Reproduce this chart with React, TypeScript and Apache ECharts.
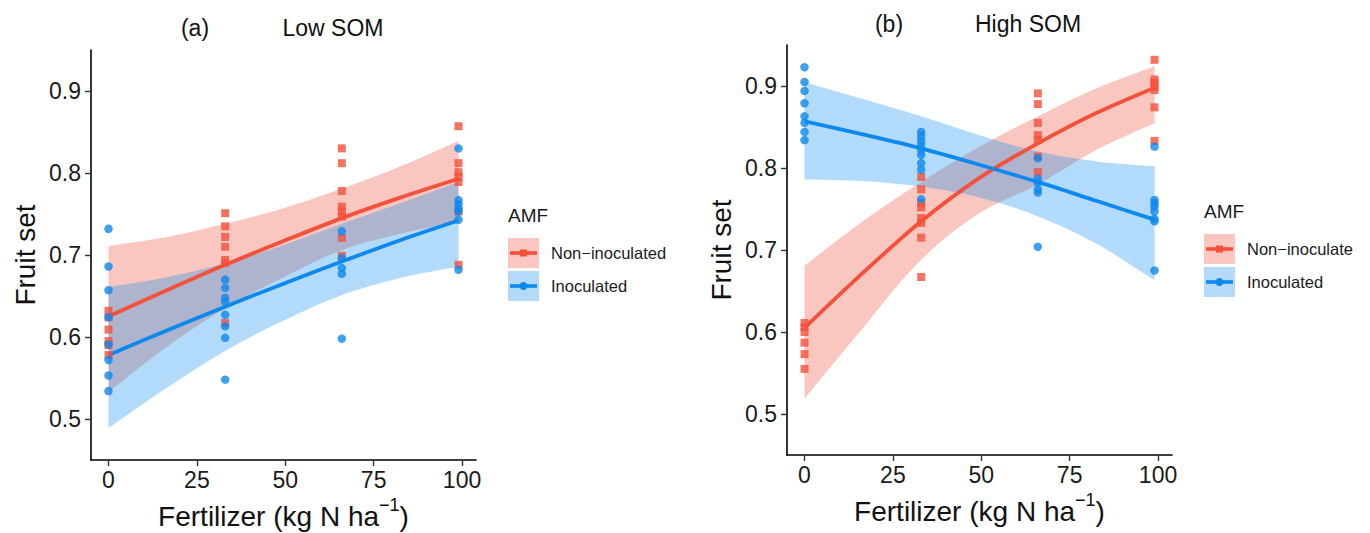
import React, { useEffect, useRef } from 'react';
import * as echarts from 'echarts';

// ---- data ----
const fertilizerLevels = [0, 33, 66, 99];
const fitX = [0, 16.5, 33, 49.5, 66, 82.5, 99];
const xTicks = [0, 25, 50, 75, 100];
const yTicks = [0.5, 0.6, 0.7, 0.8, 0.9];
const panelTitles = ['Low SOM', 'High SOM'];
const panelTags = ['(a)', '(b)'];
const groupNames = ['Non−inoculated', 'Inoculated'];
const groupNamesB = ['Non−inoculate', 'Inoculated'];

// Low SOM observations (per fertilizer level)
const lowNonObs = [
  [0.632, 0.624, 0.609, 0.595, 0.590, 0.578],
  [0.751, 0.735, 0.722, 0.710, 0.694, 0.690, 0.617],
  [0.830, 0.812, 0.778, 0.759, 0.753, 0.747, 0.721, 0.699],
  [0.857, 0.812, 0.801, 0.795, 0.789, 0.753, 0.688],
];
const lowInocObs = [
  [0.732, 0.686, 0.657, 0.624, 0.591, 0.572, 0.553, 0.534],
  [0.670, 0.660, 0.648, 0.643, 0.627, 0.613, 0.599, 0.548],
  [0.729, 0.696, 0.684, 0.677, 0.598],
  [0.830, 0.767, 0.762, 0.757, 0.753, 0.743, 0.682],
];
// Low SOM fitted curves and confidence bands (at fitX)
const lowNonFit = [0.625, 0.657, 0.688, 0.717, 0.745, 0.770, 0.793];
const lowNonUpper = [0.711, 0.722, 0.738, 0.757, 0.781, 0.808, 0.839];
const lowNonLower = [0.533, 0.588, 0.635, 0.673, 0.706, 0.726, 0.741];
const lowInocFit = [0.578, 0.608, 0.637, 0.665, 0.692, 0.718, 0.742];
const lowInocUpper = [0.661, 0.673, 0.690, 0.712, 0.738, 0.763, 0.789];
const lowInocLower = [0.489, 0.538, 0.583, 0.620, 0.651, 0.672, 0.686];

// High SOM observations
const highNonObs = [
  [0.611, 0.606, 0.600, 0.587, 0.573, 0.555],
  [0.789, 0.774, 0.757, 0.752, 0.739, 0.733, 0.715, 0.667],
  [0.891, 0.878, 0.855, 0.840, 0.834, 0.814, 0.795],
  [0.932, 0.908, 0.904, 0.899, 0.895, 0.874, 0.833],
];
const highInocObs = [
  [0.923, 0.905, 0.894, 0.879, 0.863, 0.855, 0.844, 0.834],
  [0.844, 0.839, 0.833, 0.828, 0.822, 0.816, 0.806, 0.798, 0.762],
  [0.812, 0.787, 0.782, 0.774, 0.770, 0.704],
  [0.826, 0.761, 0.757, 0.753, 0.747, 0.738, 0.735, 0.675],
];
const highNonFit = [0.605, 0.672, 0.735, 0.788, 0.830, 0.867, 0.898];
const highNonUpper = [0.681, 0.735, 0.783, 0.826, 0.863, 0.897, 0.924];
const highNonLower = [0.519, 0.605, 0.688, 0.745, 0.780, 0.822, 0.855];
const highInocFit = [0.857, 0.841, 0.824, 0.804, 0.783, 0.760, 0.737];
const highInocUpper = [0.905, 0.884, 0.863, 0.840, 0.820, 0.808, 0.802];
const highInocLower = [0.786, 0.784, 0.777, 0.764, 0.741, 0.708, 0.663];

// ---- styles ----
const RED = '#F4503A';
const BLUE = '#0C88EE';
const RED_BAND = 'rgba(238,68,45,0.3)';
const BLUE_BAND = 'rgba(0,132,238,0.3)';
const RED_SWATCH = '#FAC7C0';
const BLUE_SWATCH = '#B3DAF8';
const FONT = '"Liberation Sans", Arial, Helvetica, sans-serif';

const obsPairs = (groups: number[][]) =>
  groups.flatMap((vals, i) => vals.map((v) => [fertilizerLevels[i], v]));
const curvePairs = (ys: number[]) => fitX.map((x, i) => [x, ys[i]]);
const bandRows = (lower: number[], upper: number[]) => fitX.map((x, i) => [x, lower[i], upper[i]]);

const panels = [
  {
    non: lowNonObs, inoc: lowInocObs,
    nonFit: lowNonFit, nonUp: lowNonUpper, nonLo: lowNonLower,
    inocFit: lowInocFit, inocUp: lowInocUpper, inocLo: lowInocLower,
    grid: { left: 91, top: 50, width: 385, height: 410 },
  },
  {
    non: highNonObs, inoc: highInocObs,
    nonFit: highNonFit, nonUp: highNonUpper, nonLo: highNonLower,
    inocFit: highInocFit, inocUp: highInocUpper, inocLo: highInocLower,
    grid: { left: 787, top: 45, width: 385, height: 410 },
  },
];

function bandSeries(i: number, rows: number[][], color: string, z: number) {
  return {
    type: 'custom',
    xAxisIndex: i,
    yAxisIndex: i,
    silent: true,
    z,
    data: rows,
    encode: { x: 0, y: [1, 2] },
    renderItem: (params: any, api: any) => {
      if (params.dataIndexInside !== 0) return null;
      const top = rows.map((r) => api.coord([r[0], r[2]]));
      const bottom = rows.map((r) => api.coord([r[0], r[1]])).reverse();
      // duplicate the end vertices so that the corners stay sharp while the edges are smoothed
      const pts = [top[0], ...top, top[top.length - 1], bottom[0], ...bottom, bottom[bottom.length - 1]];
      return {
        type: 'polygon',
        shape: { points: pts, smooth: 0.35 },
        style: { fill: color },
      };
    },
  };
}

function buildOption() {
  const grids: any[] = [];
  const xAxes: any[] = [];
  const yAxes: any[] = [];
  const series: any[] = [];

  panels.forEach((p, i) => {
    grids.push({ ...p.grid, containLabel: false, outerBoundsMode: 'none' });
    xAxes.push({
      type: 'value',
      gridIndex: i,
      min: -4.95,
      max: 103.95,
      splitLine: { show: false },
      axisLine: { show: true, onZero: false, lineStyle: { color: '#000', width: 1.6 } },
      axisTick: { show: true, length: 6, lineStyle: { color: '#333', width: 1.4 }, customValues: xTicks },
      axisLabel: { customValues: xTicks, fontSize: 23, color: '#1a1a1a', fontFamily: FONT, margin: 8 },
      name: '{a|Fertilizer (kg N ha}{s|−1}{a|)}',
      nameLocation: 'middle',
      nameGap: 36,
      nameTextStyle: {
        fontFamily: FONT,
        color: '#111',
        rich: {
          a: { fontSize: 28, lineHeight: 40, fontFamily: FONT, color: '#111' },
          s: { fontSize: 18, lineHeight: 14, verticalAlign: 'top', fontFamily: FONT, color: '#111' },
        },
      },
    });
    yAxes.push({
      type: 'value',
      gridIndex: i,
      min: 0.45,
      max: 0.95,
      splitLine: { show: false },
      axisLine: { show: true, onZero: false, lineStyle: { color: '#000', width: 1.6 } },
      axisTick: { show: true, length: 6, lineStyle: { color: '#333', width: 1.4 }, customValues: yTicks },
      axisLabel: {
        customValues: yTicks, fontSize: 23, color: '#1a1a1a', fontFamily: FONT, margin: 10,
        formatter: (v: number) => v.toFixed(1),
      },
      name: 'Fruit set',
      nameLocation: 'middle',
      nameGap: 52,
      nameTextStyle: { fontSize: 28, fontFamily: FONT, color: '#111' },
    });

    const common = { xAxisIndex: i, yAxisIndex: i, silent: true };
    series.push(bandSeries(i, bandRows(p.nonLo, p.nonUp), RED_BAND, 1));
    series.push(bandSeries(i, bandRows(p.inocLo, p.inocUp), BLUE_BAND, 2));
    series.push({
      ...common, type: 'line', name: groupNames[0], data: curvePairs(p.nonFit),
      symbol: 'none', smooth: 0.3, lineStyle: { color: RED, width: 3.8 }, z: 3,
    });
    series.push({
      ...common, type: 'line', name: groupNames[1], data: curvePairs(p.inocFit),
      symbol: 'none', smooth: 0.3, lineStyle: { color: BLUE, width: 3.8 }, z: 3,
    });
    series.push({
      ...common, type: 'scatter', data: obsPairs(p.non),
      symbol: 'rect', symbolSize: 8, itemStyle: { color: RED }, z: 4,
    });
    series.push({
      ...common, type: 'scatter', data: obsPairs(p.inoc),
      symbol: 'circle', symbolSize: 8.5, itemStyle: { color: BLUE }, z: 5,
    });
  });

  const legendGraphic = (ax: number, amfY: number, sx: number, sy: number, names: string[]) => [
    { type: 'text', x: ax, y: amfY, style: { text: 'AMF', fontSize: 19, fontFamily: FONT, fill: '#1a1a1a', verticalAlign: 'middle' } },
    { type: 'rect', shape: { x: sx, y: sy, width: 31, height: 30 }, style: { fill: RED_SWATCH } },
    { type: 'line', shape: { x1: sx + 2, y1: sy + 15, x2: sx + 29, y2: sy + 15 }, style: { stroke: RED, lineWidth: 3.6 } },
    { type: 'rect', shape: { x: sx + 12, y: sy + 11.5, width: 7, height: 7 }, style: { fill: RED } },
    { type: 'rect', shape: { x: sx, y: sy + 33, width: 31, height: 30 }, style: { fill: BLUE_SWATCH } },
    { type: 'line', shape: { x1: sx + 2, y1: sy + 48, x2: sx + 29, y2: sy + 48 }, style: { stroke: BLUE, lineWidth: 3.6 } },
    { type: 'circle', shape: { cx: sx + 15.5, cy: sy + 48, r: 4 }, style: { fill: BLUE } },
    { type: 'text', x: sx + 43, y: sy + 15, style: { text: names[0], fontSize: 16.5, fontFamily: FONT, fill: '#1a1a1a', verticalAlign: 'middle' } },
    { type: 'text', x: sx + 43, y: sy + 48, style: { text: names[1], fontSize: 16.5, fontFamily: FONT, fill: '#1a1a1a', verticalAlign: 'middle' } },
  ];

  const titleText = (text: string, x: number, y: number) => ({
    type: 'text', x, y,
    style: { text, fontSize: 23, fontFamily: FONT, fill: '#111', align: 'center', verticalAlign: 'middle' },
  });

  return {
    animation: false,
    backgroundColor: '#fff',
    grid: grids,
    xAxis: xAxes,
    yAxis: yAxes,
    series,
    graphic: [
      titleText(panelTags[0], 195, 28),
      titleText(panelTitles[0], 333, 28),
      titleText(panelTags[1], 889, 24),
      titleText(panelTitles[1], 1028, 24),
      ...legendGraphic(508, 215, 508, 238, groupNames),
      ...legendGraphic(1204, 211, 1204, 234, groupNamesB),
    ],
  };
}

export default function App() {
  const ref = useRef<HTMLDivElement>(null);
  useEffect(() => {
    if (!ref.current) return;
    const chart = echarts.init(ref.current, undefined, { renderer: 'svg' });
    chart.setOption(buildOption() as any);
    return () => chart.dispose();
  }, []);
  return (
    <div
      ref={ref}
      style={{ position: 'fixed', left: 0, top: 0, width: 1370, height: 533, background: '#fff' }}
    />
  );
}
